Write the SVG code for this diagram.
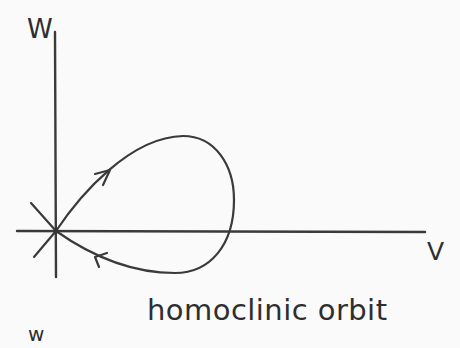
<svg xmlns="http://www.w3.org/2000/svg" width="460" height="348" viewBox="0 0 460 348">
<style>
.ln{fill:none;stroke:#3a3a3a;stroke-width:2.2;stroke-linecap:round;stroke-linejoin:round}
.ax{fill:none;stroke:#3a3a3a;stroke-width:2.4;stroke-linecap:round}
.lbl{font-family:"DejaVu Sans","Liberation Sans",sans-serif;fill:#2e2e2e}
</style>
<rect width="460" height="348" fill="#fafafa"/>
<g id="axes">
<line class="ax" x1="55" y1="32" x2="56" y2="277"/>
<line class="ax" x1="17" y1="231" x2="425" y2="232"/>
</g>
<g id="connectors">
<line class="ln" x1="31" y1="203" x2="56" y2="231"/>
<line class="ln" x1="56" y1="231" x2="34" y2="257"/>
<path class="ln" d="M56,231 C80,195 130,137 183,136 C215,136 234,165 234,200 C234,245 210,273 175,273 C130,273 90,255 56,231"/>
<path class="ln" d="M95,174 L110,170 L103,185"/>
<path class="ln" d="M107,253 L95,257 L99,267"/>
<circle cx="56" cy="231" r="2.5" fill="#333"/>
</g>
<g id="labels">
<text class="lbl" x="27" y="38" font-size="26">W</text>
<text class="lbl" x="427" y="260" font-size="25">V</text>
<text class="lbl" x="147" y="320" font-size="29" textLength="240" lengthAdjust="spacing">homoclinic orbit</text>
<text class="lbl" x="28" y="341" font-size="20">w</text>
</g>
</svg>
